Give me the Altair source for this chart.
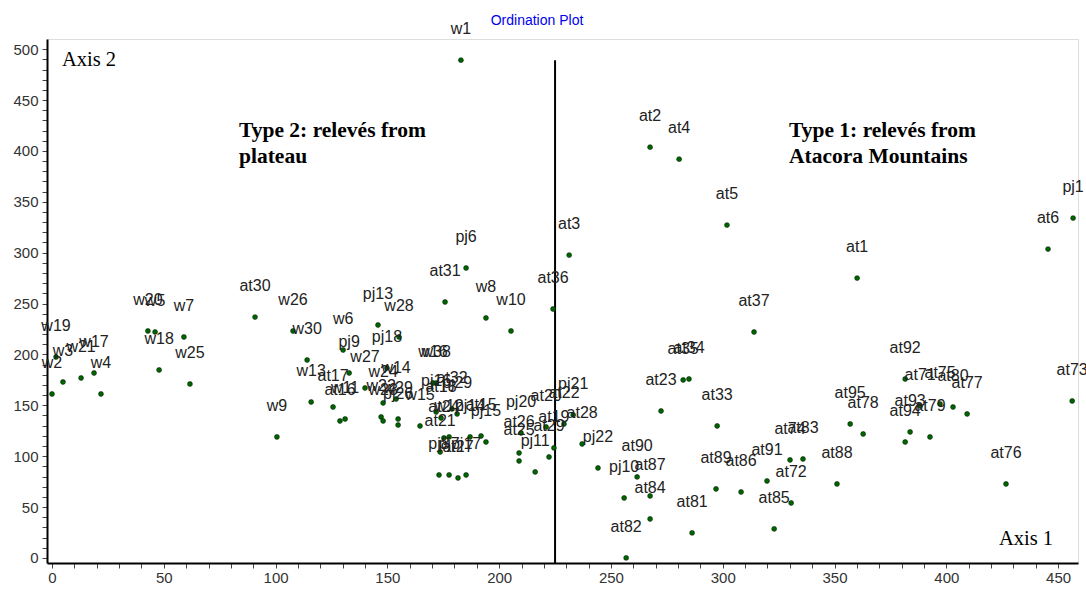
import altair as alt
import pandas as pd

# ---- data ----
labels = [
    "w1", "at2", "at4", "at5", "at3", "at1", "at6", "pj1", "pj6", "at36",
    "at31", "w8", "w10", "pj13", "w28", "w26", "at30", "w30", "w6", "pj9",
    "pj18", "w27", "w13", "at17", "at16", "w11", "w9", "w24", "w14", "w22",
    "w23", "w29", "pj26", "w15", "w16", "w38", "pj16", "at32", "at18", "pj29",
    "at24", "w12", "pj14", "at15", "pj15", "at21", "pj8", "pj7", "at27", "pj17",
    "pj20", "at26", "at25", "pj11", "at20", "at22", "pj21", "at19", "at29", "at28",
    "pj22", "at90", "pj10", "at87", "at84", "at82", "at81", "at23", "at35", "at34",
    "at33", "at37", "at89", "at86", "at91", "at74", "at83", "at72", "at85", "at88",
    "at92", "at75", "at71", "at80", "at77", "at73", "at95", "at78", "at93", "at94",
    "at79", "at76", "w2", "w19", "w3", "w21", "w17", "w4", "w20", "w5",
    "w7", "w18", "w25",
]
axis1 = [
    182.9, 267.5, 280.5, 301.9, 231.3, 360.1, 445.5, 456.7, 185.2, 224.1,
    175.8, 194.1, 205.3, 145.8, 155.2, 107.8, 90.8, 114.1, 130.2, 132.9,
    149.8, 140.0, 115.9, 125.7, 128.8, 131.1, 100.6, 148.1, 153.9, 147.2,
    148.1, 154.8, 154.8, 164.6, 170.4, 171.8, 171.8, 178.9, 174.0, 181.2,
    175.3, 177.6, 187.0, 191.9, 194.1, 173.6, 173.1, 177.6, 181.6, 185.2,
    209.8, 208.9, 208.9, 216.1, 221.0, 229.0, 233.1, 224.5, 222.3, 237.1,
    244.2, 261.7, 255.9, 267.5, 267.5, 256.8, 286.3, 272.4, 282.3, 284.9,
    297.5, 314.0, 297.0, 308.2, 319.8, 330.1, 335.9, 330.6, 323.0, 351.1,
    381.6, 397.2, 388.3, 403.0, 409.3, 456.3, 357.0, 362.8, 383.8, 381.6,
    392.7, 426.7, 0.0, 1.8, 4.9, 13.0, 18.8, 21.9, 42.9, 46.1,
    59.0, 47.9, 61.7,
]
axis2 = [
    489.2, 403.7, 391.9, 327.1, 297.6, 275.0, 303.5, 334.0, 284.9, 244.6,
    251.5, 235.8, 223.0, 228.9, 217.1, 223.0, 236.7, 194.5, 204.3, 181.7,
    186.6, 167.0, 153.2, 148.3, 134.6, 136.5, 118.9, 152.3, 156.2, 138.5,
    134.6, 136.5, 130.6, 129.7, 171.9, 171.9, 143.4, 146.4, 137.5, 141.5,
    117.9, 118.9, 118.9, 119.8, 113.9, 104.1, 81.5, 81.5, 78.6, 81.5,
    122.8, 103.1, 95.3, 84.5, 128.7, 131.6, 140.5, 108.1, 99.2, 112.0,
    88.4, 79.6, 58.9, 60.9, 38.3, 0.0, 24.6, 144.4, 174.9, 175.8,
    129.7, 222.0, 67.8, 64.8, 75.6, 96.3, 97.2, 54.0, 28.5, 72.7,
    175.8, 151.3, 149.3, 148.3, 141.5, 154.2, 131.6, 121.8, 123.8, 113.9,
    118.9, 72.7, 161.1, 197.4, 172.9, 176.8, 181.7, 161.1, 223.0, 222.0,
    217.1, 184.7, 170.9,
]

divider_axis1 = [225]
divider_from = [-5]
divider_to = [489]

x_ticks = list(range(0, 451, 10))
y_ticks = list(range(0, 501, 10))

df = pd.DataFrame({"label": labels, "axis1": axis1, "axis2": axis2})
div_df = pd.DataFrame({"axis1": divider_axis1, "axis2": divider_from, "axis2_end": divider_to})
one_row = pd.DataFrame({"k": [0]})

x_scale = alt.Scale(domain=[-2.24, 458.9], nice=False, zero=False)
y_scale = alt.Scale(domain=[-5, 510], nice=False, zero=False)

common_axis = dict(
    title=None, grid=False, domainColor="black", domainWidth=2,
    tickColor="#444", tickSize=5, tickWidth=1,
    labelFont="Liberation Sans", labelFontSize=15, labelColor="#333",
    labelOverlap=False, labelFlush=False,
    labelExpr="datum.value % 50 === 0 ? datum.label : ''",
)
x_axis = alt.Axis(values=x_ticks, labelPadding=2, **common_axis)
y_axis = alt.Axis(values=y_ticks, labelPadding=4, **common_axis)

X = alt.X("axis1:Q", scale=x_scale, axis=x_axis)
Y = alt.Y("axis2:Q", scale=y_scale, axis=y_axis)

points = alt.Chart(df).mark_circle(
    size=24, color="#006400", opacity=1, stroke="#002200", strokeWidth=0.6
).encode(x=X, y=Y)

point_labels = alt.Chart(df).mark_text(
    dy=-31, fontSize=16, font="Liberation Sans", color="#222"
).encode(x=X, y=Y, text="label:N")

divider = alt.Chart(div_df).mark_rule(color="black", strokeWidth=2).encode(
    x=X, y=Y, y2="axis2_end:Q"
)

def note(text, px, py, size=20, weight="normal", line_height=26,
         font="Liberation Serif", color="black", align="left"):
    return alt.Chart(one_row).mark_text(
        text=text, font=font, fontSize=size, fontWeight=weight,
        align=align, baseline="alphabetic", lineHeight=line_height, color=color
    ).encode(x=alt.value(px), y=alt.value(py))

ann_axis2 = note("Axis 2", 15, 27, size=20.5)
ann_axis1 = note("Axis 1", 952, 506, size=20.5)
ann_type2 = note(["Type 2: relevés from", "plateau"], 192, 98, size=21.5, weight="bold")
ann_type1 = note(["Type 1: relevés from", "Atacora Mountains"], 742, 98, size=21.5, weight="bold")
ann_title = note("Ordination Plot", 490, -14, size=14, font="Liberation Sans",
                 color="#0000ee", align="center")

chart = alt.layer(
    divider, points, point_labels, ann_axis2, ann_axis1, ann_type2, ann_type1, ann_title
).properties(
    width=1031, height=524,
    padding={"left": 47, "top": 39, "right": 8, "bottom": 26},
    autosize="none",
).configure_view(stroke="black", strokeWidth=1.5).configure(background="white")

chart.save("out.html", embed_options={"renderer": "svg", "actions": False})
